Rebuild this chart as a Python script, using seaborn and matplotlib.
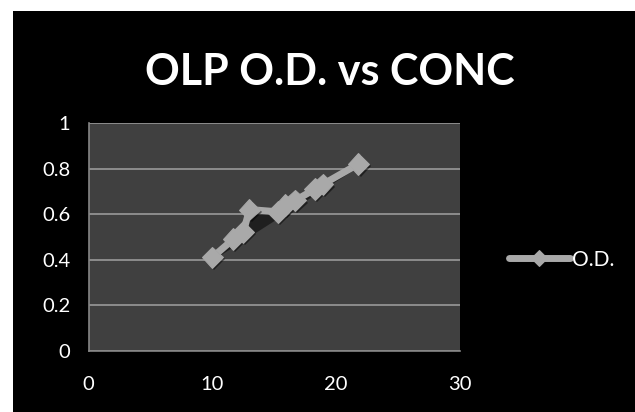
import seaborn as sns
import pandas as pd
import matplotlib.pyplot as plt
import matplotlib.patheffects as pe
from matplotlib.patches import Rectangle

# values
conc = [10.0, 11.7, 12.5, 13.0, 15.3, 15.9, 16.7, 18.3, 18.9, 21.8]
od = [0.41, 0.49, 0.52, 0.62, 0.61, 0.64, 0.66, 0.71, 0.73, 0.82]
x_ticks = [0, 10, 20, 30]
y_ticks = [0, 0.2, 0.4, 0.6, 0.8, 1]
y_labels = ['0', '0.2', '0.4', '0.6', '0.8', '1']

df = pd.DataFrame({'CONC': conc, 'O.D.': od})

sns.set_style('white')
plt.rcParams['font.family'] = ['Lato', 'DejaVu Sans']

fig = plt.figure(figsize=(6.35, 4.12), dpi=100, facecolor='white')
# black slide area, white strip on top and left
fig.patches.append(Rectangle((13 / 635, 0), 1, 1 - 11 / 412, transform=fig.transFigure,
                             facecolor='black', edgecolor='none', zorder=-1))
ax = fig.add_axes([88.5 / 635, 1 - 350.7 / 412, (460 - 88.5) / 635, (350.7 - 123) / 412])
ax.set_facecolor('#404040')

gray = '#a9a9a9'
shadow = [pe.SimplePatchShadow(offset=(1.5, -1.5), shadow_rgbFace='black', alpha=0.5), pe.Normal()]
sns.lineplot(data=df, x='CONC', y='O.D.', ax=ax, color=gray, linewidth=5,
             marker='D', markersize=11, markeredgecolor=gray, label='O.D.',
             path_effects=shadow, zorder=3)

ax.set_xlim(0, 30)
ax.set_ylim(0, 1)
ax.set_xticks(x_ticks)
ax.set_yticks(y_ticks)
ax.set_yticklabels(y_labels)
ax.grid(axis='y', color='#9a9a9a', linewidth=1.2)
ax.grid(axis='x', visible=False)
for side in ['top', 'right']:
    ax.spines[side].set_visible(False)
for side in ['left', 'bottom']:
    ax.spines[side].set_color('#868686')
    ax.spines[side].set_linewidth(1.2)
ax.tick_params(axis='both', colors='white', labelsize=14.5, length=7, width=1.2,
               direction='out', pad=6)
ax.tick_params(axis='x', pad=11)
ax.tick_params(axis='both', color='#868686')
ax.set_xlabel('')
ax.set_ylabel('')

ax.set_title('OLP O.D. vs CONC', color='white', fontsize=31, fontweight='bold',
             x=(330 - 88.5) / (460 - 88.5), y=1.13)

leg = ax.legend(loc='center left', bbox_to_anchor=(1.11, 0.4), frameon=False,
                fontsize=15, handlelength=2.9, handletextpad=0.1, borderaxespad=0)
for t in leg.get_texts():
    t.set_color('white')
for h in leg.legend_handles:
    h.set_markersize(8)
    h.set_path_effects([])

fig.savefig('out.png', dpi=100, facecolor=fig.get_facecolor())
